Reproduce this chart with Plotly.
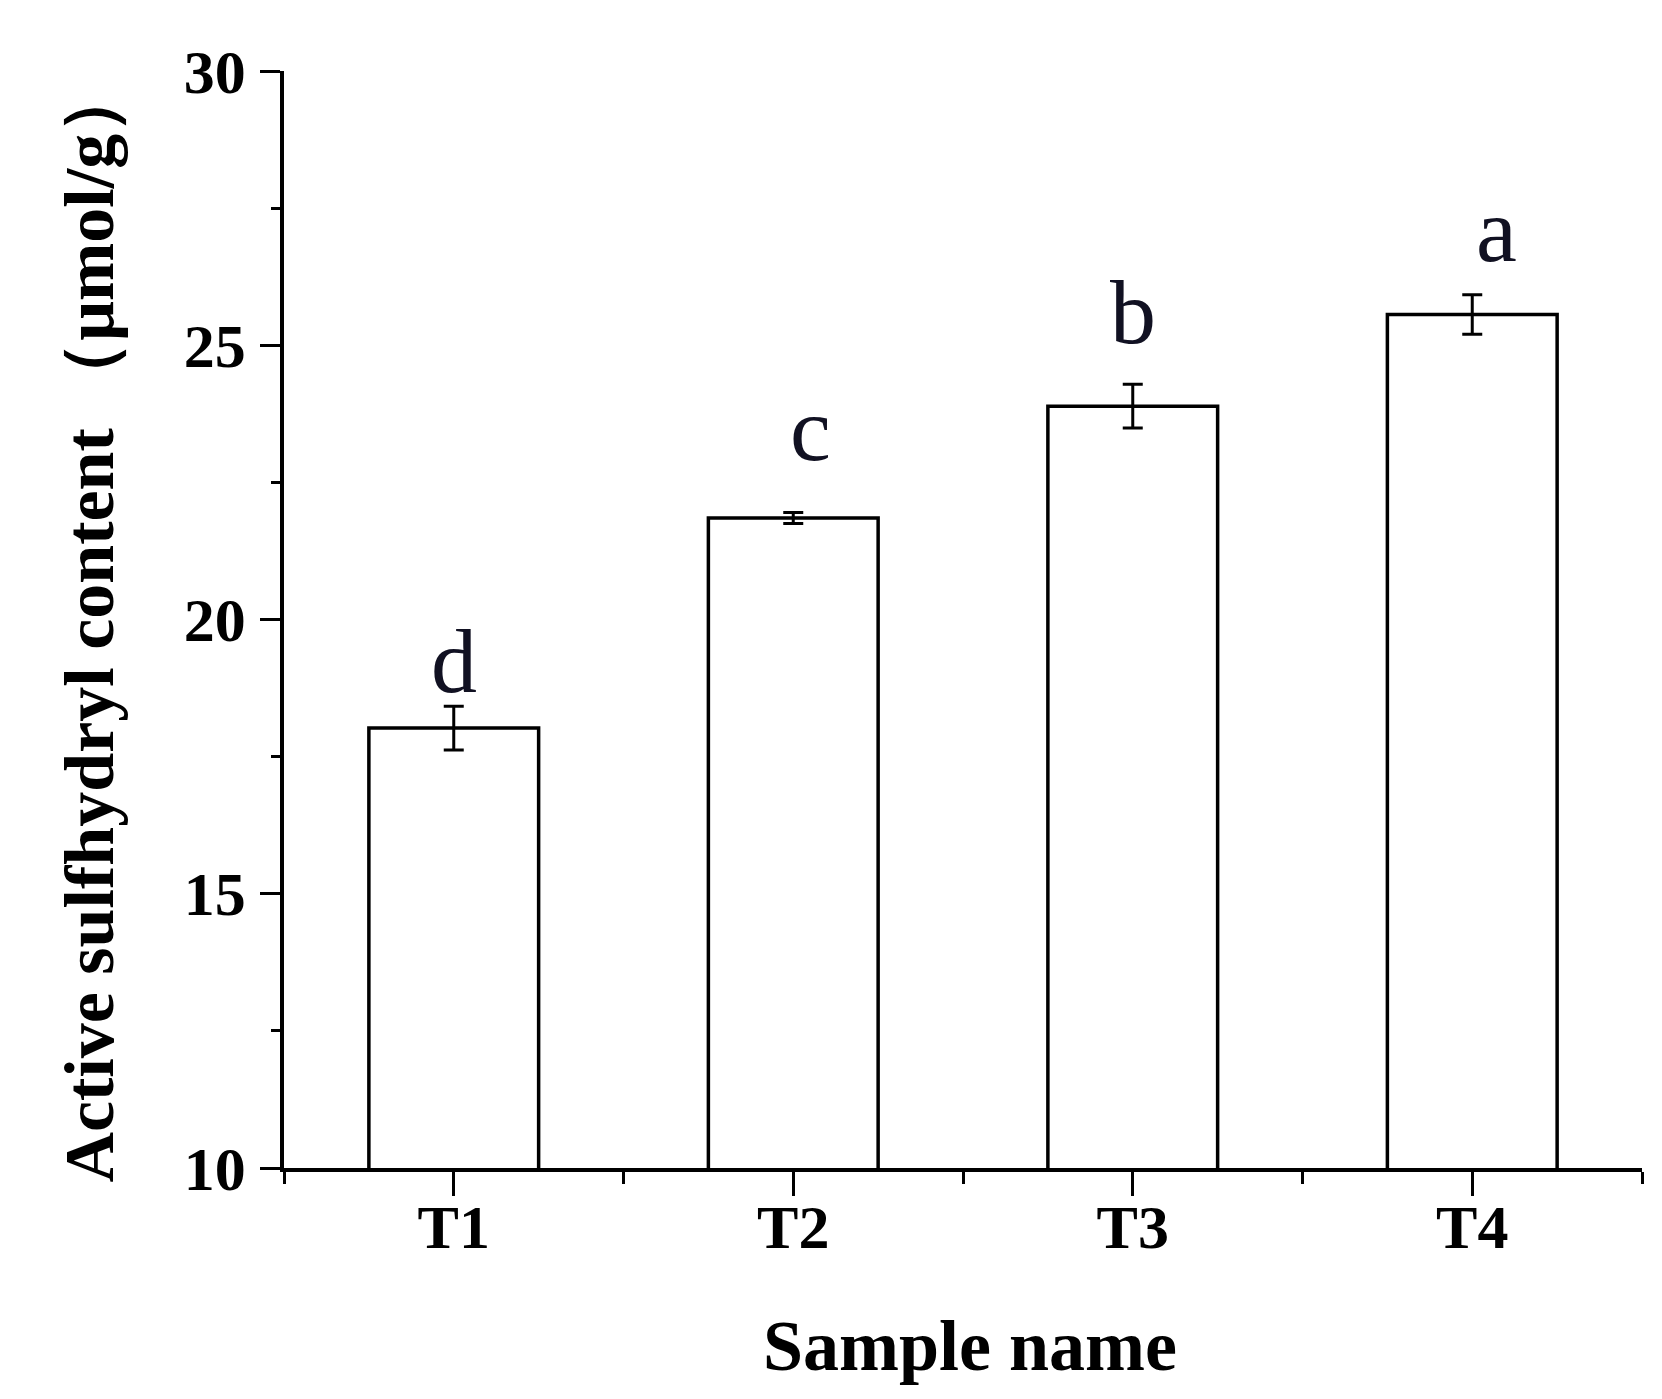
import plotly.graph_objects as go

categories = ["T1", "T2", "T3", "T4"]
values = [18.02, 21.85, 23.89, 25.56]
errors = [0.40, 0.10, 0.40, 0.36]
letters = ["d", "c", "b", "a"]
letter_dx = [0.0, 0.05, 0.0, 0.07]
letter_dy = [-0.15, 0.55, 0.35, 0.22]
y_ticks = [10, 15, 20, 25, 30]

FONT = "Liberation Serif"

fig = go.Figure()
fig.add_trace(go.Bar(
    x=list(range(len(categories))), y=values,
    width=0.5,
    marker=dict(color="white", line=dict(color="black", width=3.5)),
    error_y=dict(type="data", array=errors, visible=True, color="black",
                 thickness=3, width=10),
))

for i, (v, e, lt, dx, dy) in enumerate(zip(values, errors, letters, letter_dx, letter_dy)):
    fig.add_annotation(x=i + dx, y=v + e + dy, text=lt, showarrow=False,
                       xref="x", yref="y", yanchor="bottom",
                       font=dict(family=FONT, size=92, color="#111122"))

fig.add_annotation(text="<b>Active sulfhydryl content （μmol/g）</b>",
                   xref="paper", yref="paper", x=-0.143, y=0.497,
                   xanchor="center", yanchor="middle", textangle=-90,
                   showarrow=False, font=dict(family=FONT, size=70, color="black"))
fig.add_annotation(text="<b>Sample name</b>", xref="paper", yref="paper",
                   x=0.505, y=-0.162, xanchor="center", yanchor="middle",
                   showarrow=False, font=dict(family=FONT, size=72, color="black"))

fig.update_layout(
    width=1662, height=1399,
    margin=dict(l=276, r=28, t=63, b=239),
    paper_bgcolor="white", plot_bgcolor="white",
    showlegend=False,
)
fig.update_xaxes(
    range=[-0.5, 3.5], tickmode="array",
    tickvals=list(range(len(categories))), ticktext=categories,
    showline=True, linecolor="black", linewidth=3.5,
    ticks="outside", ticklen=24, tickwidth=3, tickcolor="black",
    minor=dict(tickmode="array", tickvals=[-0.5, 0.5, 1.5, 2.5, 3.5],
               ticks="outside", ticklen=12, tickwidth=3, tickcolor="black"),
    showgrid=False, zeroline=False,
    tickfont=dict(family=FONT, size=62, color="black", weight="bold"),
    ticklabelstandoff=-22,
)
fig.update_yaxes(
    range=[10, 30], tickmode="array", tickvals=y_ticks,
    showline=True, linecolor="black", linewidth=3.5,
    ticks="outside", ticklen=20, tickwidth=3, tickcolor="black",
    minor=dict(tickmode="array", tickvals=[12.5, 17.5, 22.5, 27.5],
               ticks="outside", ticklen=9, tickwidth=3, tickcolor="black"),
    showgrid=False, zeroline=False,
    tickfont=dict(family=FONT, size=62, color="black", weight="bold"),
    ticklabelstandoff=2,
)

fig.write_html("out.html")
